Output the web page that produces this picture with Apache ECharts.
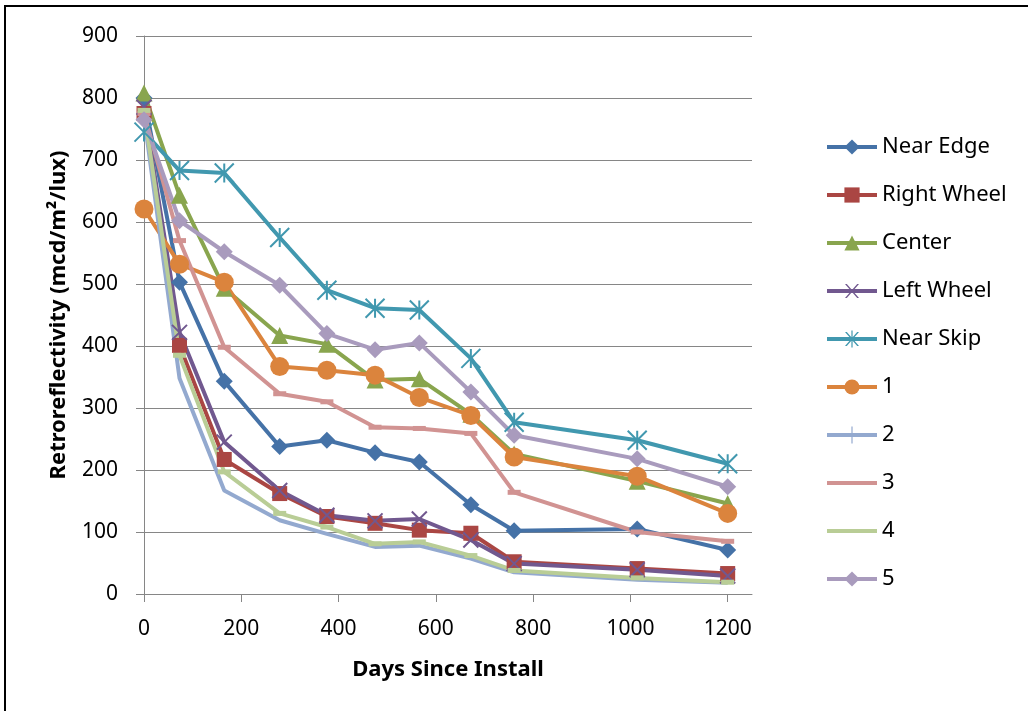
<!DOCTYPE html>
<html><head><meta charset="utf-8">
<script src="https://cdn.jsdelivr.net/npm/echarts@6/dist/echarts.min.js"></script>
<style>
html,body{margin:0;padding:0;background:#fff}
#c{width:1028px;height:711px;position:absolute;left:0;top:0}
#frame{position:absolute;left:4px;top:5px;width:1030px;height:720px;border-top:2.5px solid #000;border-left:2.5px solid #000;pointer-events:none}
</style>
</head><body><div id="c"></div><div id="frame"></div>
<script>
const days = [0, 73, 165, 279, 376, 475, 566, 672, 761, 1014, 1200];
const xTicks = [0, 200, 400, 600, 800, 1000, 1200];
const seriesNames = ['Near Edge','Right Wheel','Center','Left Wheel','Near Skip','1','2','3','4','5'];
const nearEdge   = [800, 503, 343, 238, 248, 228, 213, 144, 102, 105, 71];
const rightWheel = [775, 401, 217, 162, 125, 114, 103, 98, 52, 41, 33];
const center     = [808, 643, 493, 417, 403, 345, 347, 290, 226, 182, 146];
const leftWheel  = [785, 422, 245, 167, 127, 118, 121, 87, 49, 39, 29];
const nearSkip   = [745, 683, 679, 575, 490, 461, 458, 380, 277, 248, 210];
const s1         = [621, 532, 503, 367, 361, 353, 317, 288, 221, 190, 130];
const s2         = [770, 348, 167, 119, 97, 76, 78, 57, 35, 23, 18];
const s3         = [775, 570, 398, 323, 310, 269, 267, 259, 164, 100, 85];
const s4         = [780, 385, 197, 130, 108, 81, 84, 62, 38, 26, 19];
const s5         = [765, 602, 552, 498, 420, 394, 405, 326, 256, 218, 173];
const values = [nearEdge, rightWheel, center, leftWheel, nearSkip, s1, s2, s3, s4, s5];

const colors = ['#4572A7','#AA4643','#89A54E','#71588F','#4198AF','#DB843D','#93A9CF','#D19392','#B9CD96','#A99BBD'];
const dash = 'path://M0,4L13,4L13,9L0,9L0,4Z';
const symbols = ['diamond','rect','triangle',
  'path://M0,0L10,10M10,0L0,10',
  'path://M0,0L10,10M10,0L0,10M5,0L5,10',
  'circle',
  'path://M5,0L5,10',
  dash, dash, 'diamond'];
const sizes = [17, 15, 17, 15, 19, 19, 16, 13, 13, 17];
const strokeSym = [false,false,false,true,true,false,true,false,false,false];

// legend icons (line + marker, 50 x 19 box) for the series whose markers are custom paths
const corners = 'M0,0L0.01,0L0.01,0.01ZM50,19L49.99,19L49.99,18.99Z';
const bar = 'M0,7.5L50,7.5L50,11.5L0,11.5Z';
const xMark = 'M18,2.5L19.8,2.5L32,16.5L30.2,16.5ZM30.2,2.5L32,2.5L19.8,16.5L18,16.5Z';
const vMark = 'M24.4,1L25.6,1L25.6,18L24.4,18Z';
const legendIcons = [null, null, null,
  'path://' + corners + bar + xMark,
  'path://' + corners + bar + xMark + vMark,
  null,
  'path://' + corners + bar + vMark,
  'path://' + corners + bar,
  'path://' + corners + bar,
  null];

const font = 'Noto Sans';
const series = seriesNames.map((n, i) => ({
  name: n,
  type: 'line',
  data: days.map((d, k) => [d, values[i][k]]),
  symbol: symbols[i],
  symbolSize: sizes[i],
  symbolKeepAspect: true,
  showSymbol: true,
  lineStyle: { color: colors[i], width: 4 },
  itemStyle: strokeSym[i] ? { color: colors[i], borderColor: colors[i], borderWidth: 2 } : { color: colors[i], borderWidth: 0 },
  emphasis: { disabled: true },
  animation: false
}));

const chart = echarts.init(document.getElementById('c'), null, { renderer: 'canvas' });
chart.setOption({
  backgroundColor: '#fff',
  animation: false,
  textStyle: { fontFamily: font },
  grid: { left: 144, right: 276, top: 36, bottom: 117, containLabel: false },
  legend: {
    orient: 'vertical',
    left: 820, top: 131,
    itemWidth: 50, itemHeight: 19, itemGap: 26,
    lineStyle: { width: 4 },
    textStyle: { fontFamily: font, fontSize: 22, color: '#000' },
    data: seriesNames.map((n, i) => legendIcons[i]
      ? { name: n, icon: legendIcons[i], itemStyle: { color: colors[i], borderWidth: 0 } }
      : { name: n })
  },
  xAxis: {
    type: 'value', min: 0, max: 1250, interval: 200,
    name: 'Days Since Install', nameLocation: 'middle', nameGap: 65,
    nameTextStyle: { fontFamily: font, fontSize: 22, fontWeight: 'bold', color: '#000' },
    axisLine: { show: true, lineStyle: { color: '#868686', width: 1 } },
    axisTick: { show: true, length: 8, lineStyle: { color: '#868686' }, customValues: xTicks },
    axisLabel: { fontFamily: font, fontSize: 21, color: '#000', margin: 25, customValues: xTicks,
      formatter: v => String(v) },
    splitLine: { show: false }
  },
  yAxis: {
    type: 'value', min: 0, max: 900, interval: 100,
    name: 'Retroreflectivity (mcd/m²/lux)', nameLocation: 'middle', nameGap: 74, nameRotate: 90,
    nameTextStyle: { fontFamily: font, fontSize: 22, fontWeight: 'bold', color: '#000' },
    axisLine: { show: true, lineStyle: { color: '#868686', width: 1 } },
    axisTick: { show: true, length: 8, lineStyle: { color: '#868686' } },
    axisLabel: { fontFamily: font, fontSize: 21, color: '#000', margin: 26, formatter: v => String(v) },
    splitLine: { show: true, lineStyle: { color: '#868686', width: 1 } }
  },
  series: series
});
</script>
</body></html>
